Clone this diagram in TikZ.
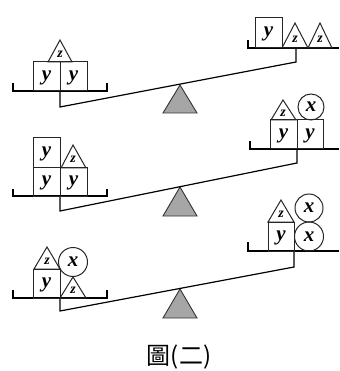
\documentclass[tikz,border=0pt]{standalone}
\usepackage{fontspec}
\setmainfont{Liberation Serif}
\newfontfamily\cjk{Noto Sans CJK TC}
% block with a letter: top-left x, top y, right x, bottom y, letter
\newcommand{\ybk}[5]{%
  \draw[blockline] (#1,#2) rectangle (#3,#4);
  \node[var] at ({(#1+#3)/2},{(#2+#4)/2+1}) {#5};}
% triangle weight: apex x, apex y, base left, base right, base y
\newcommand{\ztri}[5]{%
  \draw[blockline] (#1,#2) -- (#3,#5) -- (#4,#5) -- cycle;
  \node[zvar] at ({#1},{#5-0.36*(#5-#2)}) {z};}
% round weight: centre x, centre y, radius
\newcommand{\xcirc}[3]{%
  \draw[blockline] (#1,#2) circle [radius=#3];
  \node[var] at ({#1},{#2}) {x};}
\begin{document}
\begin{tikzpicture}[x=1pt,y=-1pt,
  blockline/.style={draw=black!85, line width=1pt},
  panline/.style={line width=2.4pt, line cap=butt, line join=miter},
  beamline/.style={line width=1.2pt},
  fulcrum/.style={fill=black!35, draw=black!80, line width=0.9pt},
  var/.style={font=\fontsize{21}{21}\selectfont\bfseries\itshape, inner sep=0pt},
  zvar/.style={font=\fontsize{14}{14}\selectfont\bfseries\itshape, inner sep=0pt}]
\useasboundingbox (0,0) rectangle (339,371);

% ---------- first balance ----------
\draw[fulcrum] (180,85) -- (163,113) -- (197,113) -- cycle;
\coordinate (l1) at (60,91);  \coordinate (r1) at (296,48);
\draw[beamline] (l1) -- (60,107) -- (296,62) -- (r1);
\draw[panline] (13,83) -- (13,91) -- (107,91) -- (107,83);
\draw[panline] (248,40) -- (248,48) -- (339,48);
\ybk{33}{62}{60}{91}{y}
\ybk{60}{62}{87}{91}{y}
\ztri{60}{40}{48}{72}{62}
\ybk{255}{18}{282}{48}{y}
\ztri{295}{23}{282}{308}{48}
\ztri{320}{23}{308}{332}{48}

% ---------- second balance ----------
\draw[fulcrum] (180,187) -- (163,216) -- (197,216) -- cycle;
\coordinate (l2) at (60,196);  \coordinate (r2) at (297,149);
\draw[beamline] (l2) -- (60,211) -- (297,163) -- (r2);
\draw[panline] (13,189) -- (13,196) -- (107,196) -- (107,189);
\draw[panline] (250,141) -- (250,149) -- (339,149);
\ybk{33}{168}{60}{196}{y}
\ybk{60}{168}{87}{196}{y}
\ybk{33}{138}{60}{168}{y}
\ztri{73}{145}{61}{86}{168}
\ybk{270}{120}{297}{149}{y}
\ybk{297}{120}{323}{149}{y}
\ztri{283}{100}{271}{296}{120}
\xcirc{311}{107}{13}

% ---------- third balance ----------
\draw[fulcrum] (180,289) -- (163,318) -- (197,318) -- cycle;
\coordinate (l3) at (60,298);  \coordinate (r3) at (294,251);
\draw[beamline] (l3) -- (60,311) -- (294,267) -- (r3);
\draw[panline] (13,290) -- (13,298) -- (107,298) -- (107,290);
\draw[panline] (248,242) -- (248,251) -- (339,251);
\ybk{33}{269}{60}{298}{y}
\ztri{47}{247}{34}{60}{269}
\xcirc{73}{262}{14.5}
\ztri{73}{277}{60}{86}{298}
\ybk{268}{222}{294}{251}{y}
\ztri{281}{200}{268}{294}{222}
\xcirc{309}{236.5}{14.5}
\xcirc{309}{208}{14}

% ---------- caption ----------
\node[font=\fontsize{24}{24}\selectfont] (cap) at (179,357) {\cjk 圖(二)};
\end{tikzpicture}
\end{document}
